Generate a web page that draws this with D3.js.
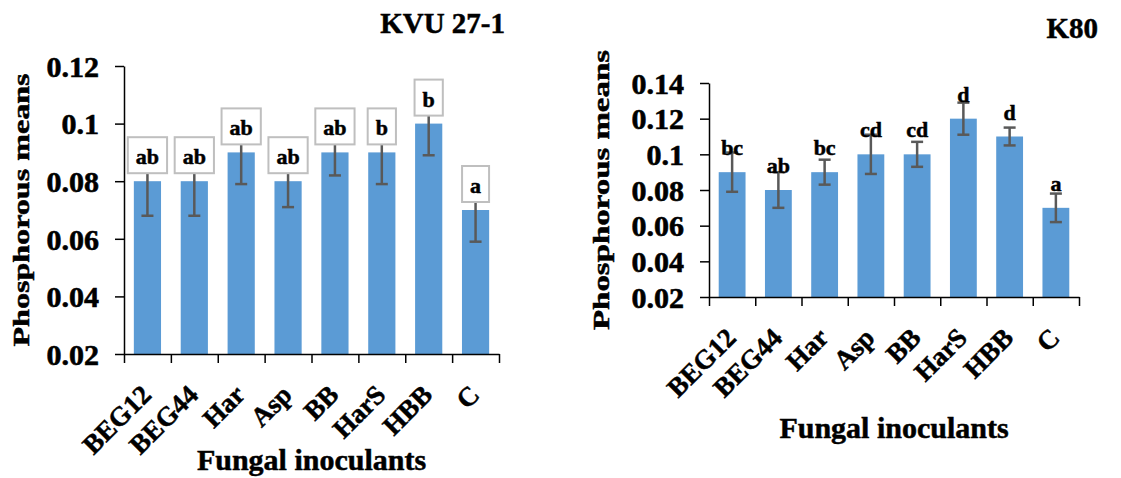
<!DOCTYPE html>
<html lang="en">
<head>
    <meta charset="UTF-8">
    <title>Phosphorous means</title>
    <script src="https://cdn.jsdelivr.net/npm/d3@7"></script>
    <style>
        body { margin: 0; background: #fff; }
        svg text { font-family: "Liberation Serif", "Times New Roman", serif; font-weight: bold; fill: #000; stroke: #000; stroke-width: 0.5px; }
        .axis path, .axis line { stroke: #000; stroke-width: 1.5; }
    </style>
</head>
<body>
<svg id="chart" width="1121" height="478"></svg>
<script>
    var categories = ["BEG12", "BEG44", "Har", "Asp", "BB", "HarS", "HBB", "C"];

    // KVU 27-1
    var kvuMeans = [0.08, 0.08, 0.09, 0.08, 0.09, 0.09, 0.10, 0.07];
    var kvuErrors = [0.012, 0.012, 0.011, 0.009, 0.008, 0.011, 0.011, 0.011];
    var kvuLetters = ["ab", "ab", "ab", "ab", "ab", "b", "b", "a"];
    var kvuTicks = [0.02, 0.04, 0.06, 0.08, 0.1, 0.12];

    // K80
    var k80Means = [0.09, 0.08, 0.09, 0.10, 0.10, 0.12, 0.11, 0.07];
    var k80Errors = [0.011, 0.010, 0.007, 0.011, 0.007, 0.009, 0.005, 0.008];
    var k80Letters = ["bc", "ab", "bc", "cd", "cd", "d", "d", "a"];
    var k80Ticks = [0.02, 0.04, 0.06, 0.08, 0.1, 0.12, 0.14];

    var svg = d3.select("svg#chart");

    function drawPanel(p) {
        var g = svg.append("g");

        var x = d3.scaleBand()
            .domain(categories)
            .range([p.x0, p.x1])
            .paddingInner(0.42)
            .paddingOuter(0.21);

        var y = d3.scaleLinear()
            .domain([p.ticks[0], p.ticks[p.ticks.length - 1]])
            .range([p.y0, p.y1]);

        // bars
        g.selectAll("rect.bar")
            .data(p.means)
            .enter()
            .append("rect")
            .attr("class", "bar")
            .attr("x", function (d, i) { return x(categories[i]); })
            .attr("width", x.bandwidth())
            .attr("y", function (d) { return y(d); })
            .attr("height", function (d) { return y(p.ticks[0]) - y(d); })
            .attr("fill", "#5b9bd5");

        // error bars
        var err = g.append("g")
            .attr("stroke", "#595959")
            .attr("stroke-width", 2.5);

        p.means.forEach(function (m, i) {
            var cx = x(categories[i]) + x.bandwidth() / 2,
                top = y(m + p.errors[i]),
                bot = y(m - p.errors[i]);
            err.append("line").attr("x1", cx).attr("x2", cx).attr("y1", top).attr("y2", bot);
            err.append("line").attr("x1", cx - 6).attr("x2", cx + 6).attr("y1", top).attr("y2", top);
            err.append("line").attr("x1", cx - 6).attr("x2", cx + 6).attr("y1", bot).attr("y2", bot);
        });

        // letters
        p.means.forEach(function (m, i) {
            var cx = x(categories[i]) + x.bandwidth() / 2;
            if (p.boxed) {
                var boxBottom = y(m) - 8;
                var lg = g.append("g");
                var rect = lg.append("rect")
                    .attr("fill", "#fff")
                    .attr("stroke", "#bfbfbf")
                    .attr("stroke-width", 2);
                var t = lg.append("text")
                    .attr("x", cx)
                    .attr("y", boxBottom - 9)
                    .attr("text-anchor", "middle")
                    .style("font-size", "22px")
                    .text(p.letters[i]);
                var w = t.node().getComputedTextLength() + 16;
                rect.attr("x", cx - w / 2).attr("width", w)
                    .attr("y", boxBottom - 36).attr("height", 36);
            } else {
                g.append("text")
                    .attr("x", cx)
                    .attr("y", y(m) - 17)
                    .attr("text-anchor", "middle")
                    .style("font-size", "22px")
                    .text(p.letters[i]);
            }
        });

        // y axis
        var yAxis = g.append("g")
            .attr("class", "axis")
            .attr("transform", "translate(" + p.x0 + ",0)")
            .call(d3.axisLeft(y)
                .tickValues(p.ticks)
                .tickSize(9)
                .tickSizeOuter(0)
                .tickPadding(16)
                .tickFormat(function (d) { return String(+d.toFixed(2)); }));
        yAxis.selectAll("text")
            .style("font-size", "30px")
            .style("stroke-width", "0.6px")
            .attr("dy", "0.34em");

        // x axis line + boundary ticks
        var xb = d3.scaleLinear().domain([0, categories.length]).range([p.x0, p.x1]);
        g.append("g")
            .attr("class", "axis")
            .attr("transform", "translate(0," + p.y0 + ")")
            .call(d3.axisBottom(xb)
                .tickValues(d3.range(categories.length + 1))
                .tickSize(9)
                .tickSizeOuter(0)
                .tickFormat(""));

        // category labels
        g.selectAll("text.cat")
            .data(categories)
            .enter()
            .append("text")
            .attr("class", "cat")
            .attr("transform", function (d) {
                return "translate(" + (x(d) + x.bandwidth() / 2 - 8) + "," + (p.y0 + 29) + ") rotate(-45)";
            })
            .attr("text-anchor", "end")
            .attr("dy", "0.7em")
            .style("font-size", "27px")
            .text(function (d) { return d; });

        // titles
        g.append("text")
            .attr("x", p.titleX)
            .attr("y", p.titleY)
            .attr("text-anchor", "end")
            .style("font-size", "29px")
            .text(p.title);

        g.append("text")
            .attr("x", (p.x0 + p.x1) / 2)
            .attr("y", p.xTitleY)
            .attr("text-anchor", "middle")
            .style("font-size", "30px")
            .text("Fungal inoculants");

        g.append("text")
            .attr("transform", "translate(" + p.yTitleX + "," + ((p.y0 + p.y1) / 2) + ") rotate(-90)")
            .attr("text-anchor", "middle")
            .attr("textLength", p.yTitleLen)
            .attr("lengthAdjust", "spacingAndGlyphs")
            .style("font-size", "24px")
            .text("Phosphorous means");
    }

    drawPanel({
        x0: 124, x1: 499, y0: 354, y1: 66,
        means: kvuMeans, errors: kvuErrors, letters: kvuLetters, ticks: kvuTicks,
        boxed: true,
        title: "KVU 27-1", titleX: 505, titleY: 33,
        xTitleY: 470, yTitleX: 29, yTitleLen: 273
    });

    drawPanel({
        x0: 709, x1: 1079, y0: 297, y1: 83,
        means: k80Means, errors: k80Errors, letters: k80Letters, ticks: k80Ticks,
        boxed: false,
        title: "K80", titleX: 1098, titleY: 38,
        xTitleY: 438, yTitleX: 609, yTitleLen: 280
    });
</script>
</body>
</html>
